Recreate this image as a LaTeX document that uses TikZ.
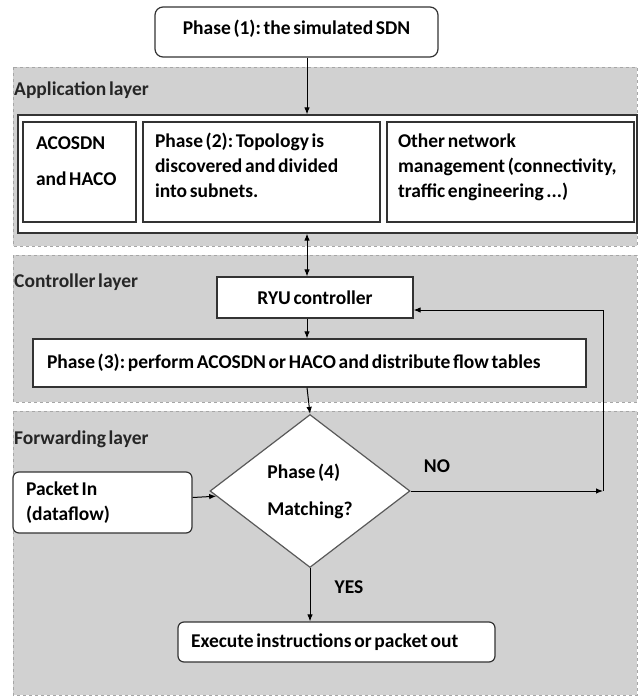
\documentclass[tikz,border=0pt]{standalone}
\usepackage{fontspec}
\setmainfont{Carlito}[WordSpace=0.6]
\usetikzlibrary{shapes.geometric, arrows.meta, positioning}
\frenchspacing

\begin{document}
\begin{tikzpicture}[
x=1pt, y=-1pt,
font=\fontsize{19.5}{25}\selectfont\bfseries,
every node/.style={
    inner sep=0pt,
    },
layer/.style={
    draw=black!35,
    dashed,
    fill=black!18,
    },
layertitle/.style={
    anchor=west,
    text=black!85,
    },
box/.style={
    draw=black!80,
    line width=1.2pt,
    fill=white,
    rectangle,
    },
every edge/.style={
    draw,
    line width=1pt,
    -{Latex[length=7pt,width=5.5pt]},
    },
]
\useasboundingbox (0,0) rectangle (638,696);

% the three layers
\draw[layer] (13,67) rectangle (637,246);
\draw[layer] (13,255) rectangle (637,402);
\draw[layer] (13,411) rectangle (637,695);
\node[layertitle] (AppL) at (14,90) {Application layer};
\node[layertitle] (CtrlL) at (14,282) {Controller layer};
\node[layertitle] (FwdL) at (14,439) {Forwarding layer};

\node[box, rounded corners=8pt, minimum width=283, minimum height=50,
      text depth=9pt] (SDN) at (296.5,32) {Phase (1): the simulated SDN};

% application boxes
\node[box, minimum width=619, minimum height=118] (App) at (327.5,174) {};
\node[box, minimum width=113, minimum height=100, text width=87,
      inner xsep=13pt, align=flush left, text depth=57pt] (Algo) at (79.5,172)
     {ACOSDN\\[11pt] and HACO};
\node[box, minimum width=237, minimum height=100, text width=213,
      inner xsep=12pt, align=flush left, text depth=63pt] (Topo) at (261.5,172)
     {Phase (2): Topology is\\ discovered and divided\\ into subnets.};
\node[box, minimum width=247, minimum height=100, text width=225,
      inner xsep=11pt, align=flush left, text depth=63pt] (Other) at (510.5,172)
     {Other network\\ management (connectivity,\\ traffic engineering ...)};

% controller
\node[box, minimum width=196, minimum height=41] (Ryu) at (315,297.5)
     {RYU controller};
\node[box, minimum width=553, minimum height=48, text width=525,
      inner xsep=14pt, align=flush left] (Distr) at (309.5,363)
     {Phase (3): perform ACOSDN or HACO and distribute flow tables};

% forwarding
\node[draw=black!65, line width=1.2pt, fill=white, diamond,
      minimum width=200, minimum height=153, align=flush left] (Match) at (310,491)
     {Phase (4)\\[12pt] Matching?};
\node[box, rounded corners=6pt, minimum width=179, minimum height=61,
      text width=153, inner xsep=13pt, align=flush left] (PIn) at (102.5,502.5)
     {Packet In\\ (dataflow)};
\node[box, rounded corners=6pt, minimum width=317, minimum height=40,
      text width=291, inner xsep=13pt, align=flush left] (Exec) at (336.5,642)
     {Execute instructions or packet out};
\node (No) at (437,466) {NO};
\node (Yes) at (349,587) {YES};

\coordinate (ax) at (307,0);
\coordinate (Turn) at (603,491);
\coordinate (Back) at (603,310);

\path (SDN.south -| ax) edge (App.north -| ax)
      (Ryu.south -| ax) edge (Distr.north -| ax)
      (Distr.south -| ax) edge (Match.north)
      (PIn) edge (Match)
      (Match) edge (Exec.north -| Match)
      (Match.east) edge (Turn);
\path (App.south -| ax)
      edge[{Latex[length=7pt,width=5.5pt]}-{Latex[length=7pt,width=5.5pt]}]
      (Ryu.north -| ax);
\draw[line width=1pt, -{Latex[length=7pt,width=5.5pt]}]
     (Turn) -- (Back) -- (Back -| Ryu.east);
\end{tikzpicture}
\end{document}
